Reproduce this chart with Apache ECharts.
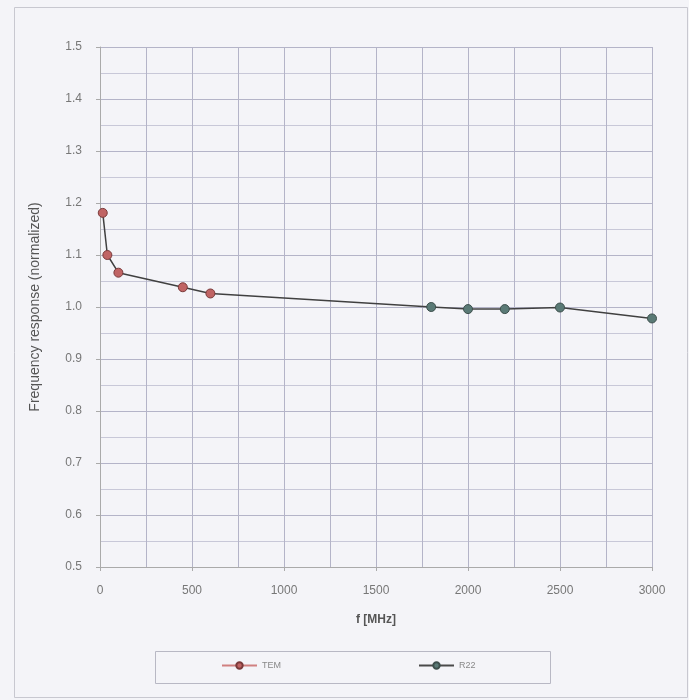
<!DOCTYPE html>
<html>
<head>
<meta charset="UTF-8">
<script src="https://cdn.jsdelivr.net/npm/echarts@6/dist/echarts.min.js"></script>
<style>
  html, body { margin: 0; padding: 0; background: #f4f4f8; }
</style>
</head>
<body>
<div id="main" style="width:689px;height:700px;"></div>
<script>
// TEM measurements
var temFreq = [15, 40, 100, 450, 600];
var temResp = [1.181, 1.100, 1.066, 1.038, 1.026];
// R22 measurements
var r22Freq = [1800, 2000, 2200, 2500, 3000];
var r22Resp = [1.000, 0.996, 0.996, 0.999, 0.978];

var temData = temFreq.map(function (f, i) { return [f, temResp[i]]; });
// the connecting segment 600 -> 1800 is drawn with the R22 line
var r22Data = [{ value: temData[temData.length - 1], symbol: 'none' }].concat(
  r22Freq.map(function (f, i) { return [f, r22Resp[i]]; })
);

var gridColor = '#b4b4c8';
var chart = echarts.init(document.getElementById('main'));
chart.setOption({
  backgroundColor: '#f4f4f8',
  textStyle: { fontFamily: 'Liberation Sans, Arial, sans-serif' },
  grid: { left: 100, right: 37, top: 47, bottom: 133 },
  xAxis: {
    type: 'value', min: 0, max: 3000, interval: 500,
    name: 'f [MHz]', nameLocation: 'middle', nameGap: 47,
    nameTextStyle: { color: '#555', fontSize: 12, fontWeight: 'bold' },
    axisLine: { lineStyle: { color: '#aaa' } },
    axisTick: { show: true, length: 4, lineStyle: { color: '#aaa' } },
    axisLabel: { color: '#777', fontSize: 12, margin: 18,
      formatter: function (v) { return String(v); } },
    splitLine: { lineStyle: { color: gridColor } },
    minorTick: { show: false, splitNumber: 2 },
    minorSplitLine: { show: true, lineStyle: { color: gridColor } }
  },
  yAxis: {
    type: 'value', min: 0.5, max: 1.5, interval: 0.1,
    name: 'Frequency response (normalized)', nameLocation: 'middle', nameGap: 58,
    nameTextStyle: { color: '#555', fontSize: 14 },
    axisLine: { show: true, lineStyle: { color: '#aaa' } },
    axisTick: { show: true, length: 4, lineStyle: { color: '#aaa' } },
    axisLabel: { color: '#777', fontSize: 12, margin: 18,
      formatter: function (v) { return v.toFixed(1); } },
    splitLine: { lineStyle: { color: gridColor } },
    minorTick: { show: false, splitNumber: 2 },
    minorSplitLine: { show: true, lineStyle: { color: '#c8c8d8' } }
  },
  legend: {
    left: 216, top: 656, itemGap: 137, itemWidth: 35, itemHeight: 8,
    textStyle: { color: '#888', fontSize: 9 },
    data: [
      { name: 'TEM', itemStyle: { color: '#c06464', borderColor: '#7a3a3a' }, lineStyle: { color: '#d08080' } },
      { name: 'R22', itemStyle: { color: '#5a7a76', borderColor: '#3d4f4c' }, lineStyle: { color: '#4a4a4a' } }
    ]
  },
  graphic: [
    { type: 'rect', left: 12, top: 5, shape: { width: 673, height: 690 },
      style: { fill: 'none', stroke: '#c8c8d0', lineWidth: 1 }, silent: true },
    { type: 'rect', left: 153, top: 649, shape: { width: 395, height: 32 },
      style: { fill: 'none', stroke: '#b8b8c4', lineWidth: 1 }, silent: true }
  ],
  series: [
    {
      name: 'TEM', type: 'line', data: temData,
      symbol: 'circle', symbolSize: 9,
      lineStyle: { color: '#404040', width: 1.5 },
      itemStyle: { color: '#c06464', borderColor: '#7a3a3a', borderWidth: 1 },
      z: 3
    },
    {
      name: 'R22', type: 'line', data: r22Data,
      symbol: 'circle', symbolSize: 9,
      lineStyle: { color: '#404040', width: 1.5 },
      itemStyle: { color: '#5a7a76', borderColor: '#3d4f4c', borderWidth: 1 },
      z: 2
    }
  ]
});
</script>
</body>
</html>
